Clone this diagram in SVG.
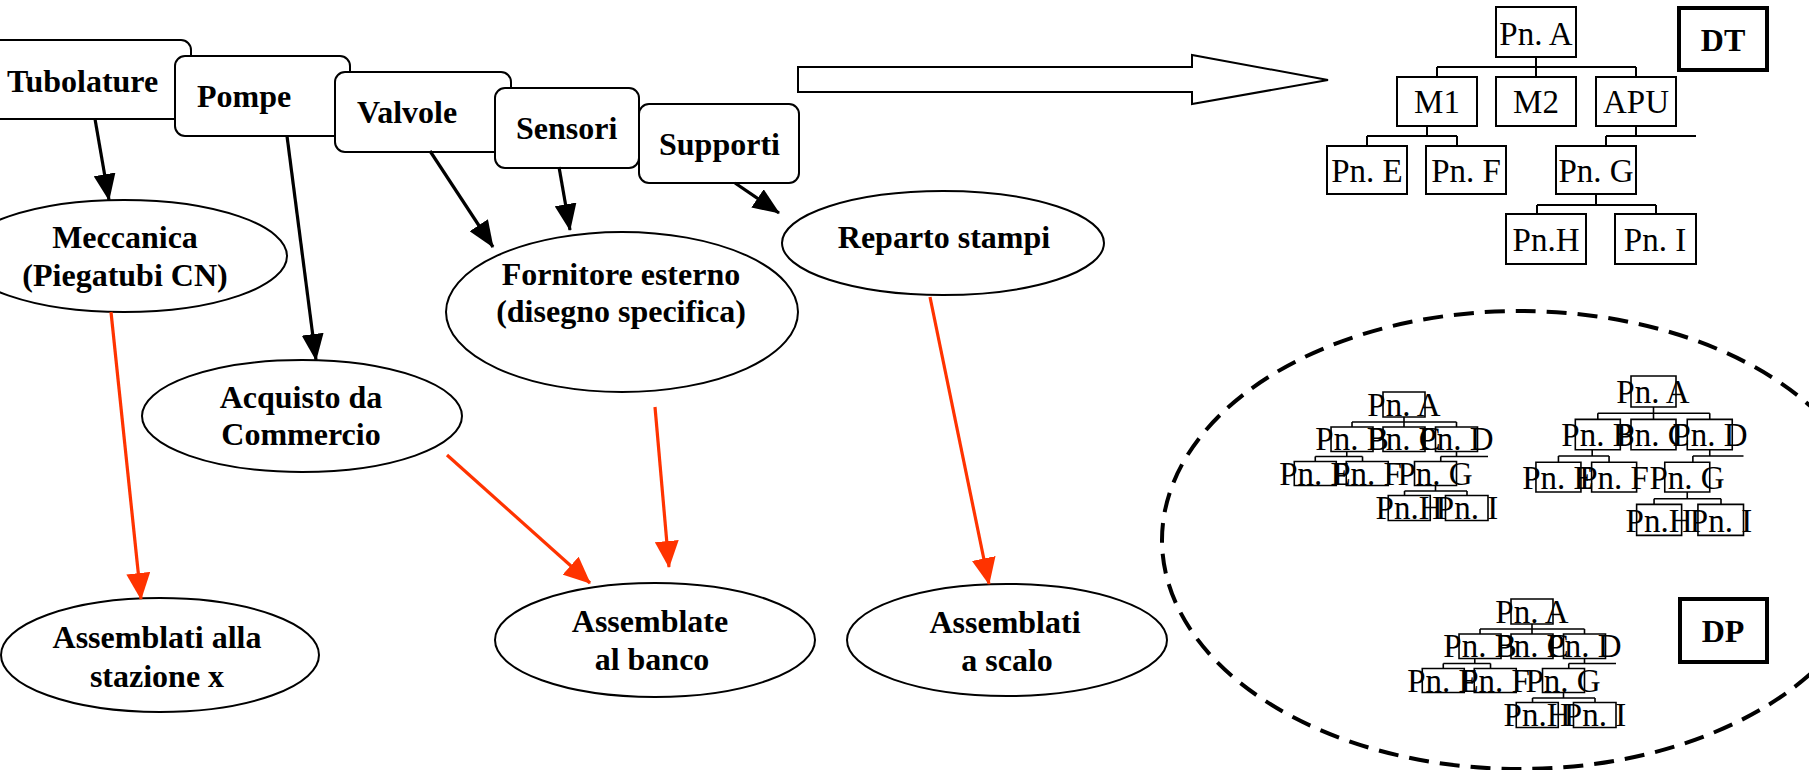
<svg xmlns="http://www.w3.org/2000/svg" xmlns:xlink="http://www.w3.org/1999/xlink" width="1809" height="770" viewBox="0 0 1809 770">
<style>
.box{fill:#fff;stroke:#000;stroke-width:2}
.ell{fill:#fff;stroke:#000;stroke-width:2}
.lbl{font-family:"Liberation Serif","Times New Roman",serif;font-weight:bold;font-size:32px;fill:#000}
.c{text-anchor:middle}
.pn{font-family:"Liberation Serif","Times New Roman",serif;font-size:33px;fill:#000;text-anchor:middle}
.tb{fill:#fff;stroke:#000;stroke-width:2}
.tl{fill:none;stroke:#000;stroke-width:2}
.mb{fill:none;stroke:#000;stroke-width:1.6;vector-effect:non-scaling-stroke}
.ml{fill:none;stroke:#000;stroke-width:1.6;vector-effect:non-scaling-stroke}
.blk{fill:none;stroke:#000;stroke-width:3.2}
.red{fill:none;stroke:#FF3300;stroke-width:3.2}
.thick{fill:#fff;stroke:#000;stroke-width:4}
</style>
<defs>
<marker id="ab" markerUnits="userSpaceOnUse" markerWidth="27" markerHeight="22" refX="26" refY="11" orient="auto">
<path d="M0,0 L27,11 L0,22 z" fill="#000"/>
</marker>
<marker id="ar" markerUnits="userSpaceOnUse" markerWidth="27" markerHeight="24" refX="26" refY="12" orient="auto">
<path d="M0,0 L27,12 L0,24 z" fill="#FF3300"/>
</marker>
<g id="tree">
<rect class="mb" x="0" y="0" width="80" height="50"/>
<path class="ml" d="M40,50 V60 M-59,60 H140 M-59,60 V70 M40,60 V70 M140,60 V70"/>
<rect class="mb" x="-99" y="70" width="80" height="49"/>
<rect class="mb" x="0" y="70" width="80" height="49"/>
<rect class="mb" x="100" y="70" width="80" height="49"/>
<path class="ml" d="M-69,119 V129 M-129,129 H-39 M-129,129 V139 M-39,129 V139"/>
<rect class="mb" x="-169" y="139" width="80" height="48"/>
<rect class="mb" x="-70" y="139" width="80" height="48"/>
<path class="ml" d="M140,119 V129 M110,129 H200 M110,129 V139"/>
<rect class="mb" x="60" y="139" width="80" height="48"/>
<path class="ml" d="M100,187 V198 M41,198 H160 M41,198 V207 M160,198 V207"/>
<rect class="mb" x="10" y="207" width="80" height="50"/>
<rect class="mb" x="119" y="207" width="81" height="50"/>
</g>
</defs>

<g id="source-boxes">
<g id="n-tubolature"><rect class="box" x="-20" y="40" width="211" height="79" rx="10"/><text class="lbl" x="7" y="92">Tubolature</text></g>
<g id="n-pompe"><rect class="box" x="175" y="56" width="175" height="80" rx="10"/><text class="lbl" x="197" y="107">Pompe</text></g>
<g id="n-valvole"><rect class="box" x="335" y="72" width="176" height="80" rx="10"/><text class="lbl" x="357" y="123">Valvole</text></g>
<g id="n-sensori"><rect class="box" x="495" y="88" width="144" height="80" rx="10"/><text class="lbl" x="516" y="139">Sensori</text></g>
<g id="n-supporti"><rect class="box" x="639" y="104" width="160" height="79" rx="10"/><text class="lbl" x="659" y="155">Supporti</text></g>
</g>

<g id="n-meccanica"><ellipse class="ell" cx="124" cy="256" rx="163" ry="56"/><text class="lbl c" x="125" y="248">Meccanica</text><text class="lbl c" x="125" y="286">(Piegatubi CN)</text></g>
<g id="n-acquisto"><ellipse class="ell" cx="302" cy="416" rx="160" ry="56"/><text class="lbl c" x="301" y="408">Acquisto da</text><text class="lbl c" x="301" y="445">Commercio</text></g>
<g id="n-fornitore"><ellipse class="ell" cx="622" cy="312" rx="176" ry="80"/><text class="lbl c" x="621" y="285">Fornitore esterno</text><text class="lbl c" x="621" y="322">(disegno specifica)</text></g>
<g id="n-reparto"><ellipse class="ell" cx="943" cy="243" rx="161" ry="52"/><text class="lbl c" x="944" y="248">Reparto stampi</text></g>
<g id="n-ass-stazione"><ellipse class="ell" cx="160" cy="655" rx="159" ry="57"/><text class="lbl c" x="157" y="648">Assemblati alla</text><text class="lbl c" x="157" y="687">stazione x</text></g>
<g id="n-ass-banco"><ellipse class="ell" cx="655" cy="640" rx="160" ry="57"/><text class="lbl c" x="650" y="632">Assemblate</text><text class="lbl c" x="652" y="670">al banco</text></g>
<g id="n-ass-scalo"><ellipse class="ell" cx="1007" cy="640" rx="160" ry="56"/><text class="lbl c" x="1005" y="633">Assemblati</text><text class="lbl c" x="1007" y="671">a scalo</text></g>

<g id="connectors">
<line class="blk" x1="95" y1="119" x2="109" y2="200" marker-end="url(#ab)"/>
<line class="blk" x1="287" y1="136" x2="316" y2="360" marker-end="url(#ab)"/>
<line class="blk" x1="430" y1="151" x2="493" y2="247" marker-end="url(#ab)"/>
<line class="blk" x1="559" y1="167" x2="570" y2="230" marker-end="url(#ab)"/>
<line class="blk" x1="735" y1="183" x2="779" y2="213" marker-end="url(#ab)"/>
<line class="red" x1="111" y1="312" x2="141" y2="599" marker-end="url(#ar)"/>
<line class="red" x1="447" y1="455" x2="590" y2="583" marker-end="url(#ar)"/>
<line class="red" x1="655" y1="407" x2="669" y2="567" marker-end="url(#ar)"/>
<line class="red" x1="930" y1="297" x2="989" y2="584" marker-end="url(#ar)"/>
</g>

<g id="big-arrow"><polygon points="798,67 1192,67 1192,55 1328,80 1192,104 1192,92 798,92" fill="#fff" stroke="#000" stroke-width="2"/></g>

<g id="dt-tree">
<rect class="tb" x="1496" y="7" width="80" height="50"/><text class="pn" x="1536" y="45">Pn. A</text>
<path class="tl" d="M1536,57 V67 M1437,67 H1636 M1437,67 V77 M1536,67 V77 M1636,67 V77"/>
<rect class="tb" x="1397" y="77" width="80" height="49"/><text class="pn" x="1437" y="113">M1</text>
<rect class="tb" x="1496" y="77" width="80" height="49"/><text class="pn" x="1536" y="113">M2</text>
<rect class="tb" x="1596" y="77" width="80" height="49"/><text class="pn" x="1636" y="113">APU</text>
<path class="tl" d="M1427,126 V136 M1367,136 H1457 M1367,136 V146 M1457,136 V146"/>
<rect class="tb" x="1327" y="146" width="80" height="48"/><text class="pn" x="1367" y="182">Pn. E</text>
<rect class="tb" x="1426" y="146" width="80" height="48"/><text class="pn" x="1466" y="182">Pn. F</text>
<path class="tl" d="M1636,126 V136 M1606,136 H1696 M1606,136 V146"/>
<rect class="tb" x="1556" y="146" width="80" height="48"/><text class="pn" x="1596" y="182">Pn. G</text>
<path class="tl" d="M1596,194 V205 M1537,205 H1656 M1537,205 V214 M1656,205 V214"/>
<rect class="tb" x="1506" y="214" width="80" height="50"/><text class="pn" x="1546" y="251">Pn.H</text>
<rect class="tb" x="1615" y="214" width="81" height="50"/><text class="pn" x="1655" y="251">Pn. I</text>
</g>
<g id="dt-label"><rect class="thick" x="1679" y="8" width="88" height="62"/><text class="lbl c" x="1723" y="51">DT</text></g>

<g id="dp-area">
<ellipse cx="1520" cy="540" rx="358" ry="229" fill="none" stroke="#000" stroke-width="4" stroke-dasharray="20 11"/>
</g>

<g id="dp-tree-1">
<use xlink:href="#tree" transform="translate(1383,392) scale(0.525,0.5)"/>
<text class="pn" x="1404" y="416">Pn. A</text>
<text class="pn" x="1352" y="450">Pn. B</text><text class="pn" x="1404" y="450">Pn. C</text><text class="pn" x="1456" y="450">Pn. D</text>
<text class="pn" x="1315" y="485">Pn. E</text><text class="pn" x="1367" y="485">Pn. F</text><text class="pn" x="1435" y="485">Pn. G</text>
<text class="pn" x="1409" y="519">Pn.H</text><text class="pn" x="1467" y="519">Pn. I</text>
</g>
<g id="dp-tree-2">
<use xlink:href="#tree" transform="translate(1631,376) scale(0.5625,0.62)"/>
<text class="pn" x="1653" y="403">Pn. A</text>
<text class="pn" x="1598" y="446">Pn. B</text><text class="pn" x="1653" y="446">Pn. C</text><text class="pn" x="1710" y="446">Pn. D</text>
<text class="pn" x="1558" y="489">Pn. E</text><text class="pn" x="1614" y="489">Pn. F</text><text class="pn" x="1687" y="489">Pn. G</text>
<text class="pn" x="1659" y="532">Pn.H</text><text class="pn" x="1721" y="532">Pn. I</text>
</g>
<g id="dp-tree-3">
<use xlink:href="#tree" transform="translate(1511,599) scale(0.525,0.5)"/>
<text class="pn" x="1532" y="623">Pn. A</text>
<text class="pn" x="1480" y="657">Pn. B</text><text class="pn" x="1532" y="657">Pn. C</text><text class="pn" x="1584" y="657">Pn. D</text>
<text class="pn" x="1443" y="692">Pn. E</text><text class="pn" x="1495" y="692">Pn. F</text><text class="pn" x="1563" y="692">Pn. G</text>
<text class="pn" x="1537" y="726">Pn.H</text><text class="pn" x="1595" y="726">Pn. I</text>
</g>
<g id="dp-label"><rect class="thick" x="1680" y="599" width="87" height="63"/><text class="lbl c" x="1723" y="642">DP</text></g>
</svg>
